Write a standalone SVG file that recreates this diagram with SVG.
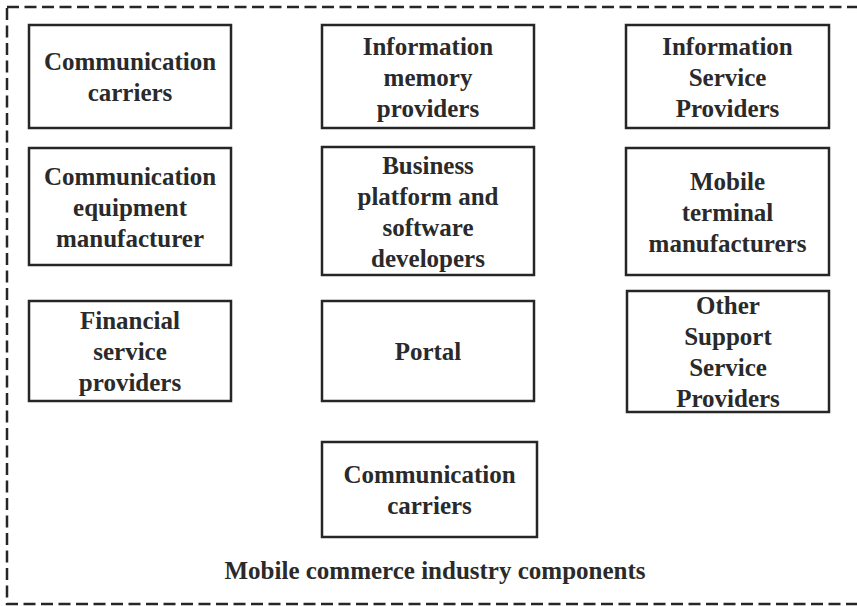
<svg xmlns="http://www.w3.org/2000/svg" width="857" height="606" viewBox="0 0 857 606">
  <style>
    .box { fill: #ffffff; stroke: #262626; stroke-width: 2.5; }
    .frame { fill: none; stroke: #262626; stroke-width: 2.5; stroke-dasharray: 12 5.5; }
    .lbl { font-family: "Liberation Serif", "Times New Roman", serif; font-weight: bold; font-size: 25px; fill: #2a2a2a; text-anchor: middle; }
  </style>
  <rect x="0" y="0" width="857" height="606" fill="#ffffff"/>

  <!-- outer dashed boundary -->
  <rect class="frame" x="7" y="7" width="862" height="597"/>

  <g id="n-comm-carriers">
    <rect class="box" x="29" y="25" width="202" height="103"/>
    <text class="lbl" x="130" y="70">Communication</text>
    <text class="lbl" x="130" y="101">carriers</text>
  </g>

  <g id="n-info-memory">
    <rect class="box" x="322" y="25" width="212" height="103"/>
    <text class="lbl" x="428" y="54.5">Information</text>
    <text class="lbl" x="428" y="85.5">memory</text>
    <text class="lbl" x="428" y="116.5">providers</text>
  </g>

  <g id="n-info-service">
    <rect class="box" x="626" y="25" width="203" height="103"/>
    <text class="lbl" x="727.5" y="54.5">Information</text>
    <text class="lbl" x="727.5" y="85.5">Service</text>
    <text class="lbl" x="727.5" y="116.5">Providers</text>
  </g>

  <g id="n-comm-equipment">
    <rect class="box" x="29" y="148" width="202" height="117"/>
    <text class="lbl" x="130" y="184.5">Communication</text>
    <text class="lbl" x="130" y="215.5">equipment</text>
    <text class="lbl" x="130" y="246.5">manufacturer</text>
  </g>

  <g id="n-business-platform">
    <rect class="box" x="322" y="147" width="212" height="128"/>
    <text class="lbl" x="428" y="173.5">Business</text>
    <text class="lbl" x="428" y="204.5">platform and</text>
    <text class="lbl" x="428" y="235.5">software</text>
    <text class="lbl" x="428" y="266.5">developers</text>
  </g>

  <g id="n-mobile-terminal">
    <rect class="box" x="626" y="148" width="203" height="127"/>
    <text class="lbl" x="727.5" y="189.5">Mobile</text>
    <text class="lbl" x="727.5" y="220.5">terminal</text>
    <text class="lbl" x="727.5" y="251.5">manufacturers</text>
  </g>

  <g id="n-financial">
    <rect class="box" x="29" y="301" width="202" height="100"/>
    <text class="lbl" x="130" y="329">Financial</text>
    <text class="lbl" x="130" y="360">service</text>
    <text class="lbl" x="130" y="391">providers</text>
  </g>

  <g id="n-portal">
    <rect class="box" x="322" y="301" width="212" height="100"/>
    <text class="lbl" x="428" y="360">Portal</text>
  </g>

  <g id="n-other-support">
    <rect class="box" x="627" y="291" width="202" height="121"/>
    <text class="lbl" x="728" y="314">Other</text>
    <text class="lbl" x="728" y="345">Support</text>
    <text class="lbl" x="728" y="376">Service</text>
    <text class="lbl" x="728" y="407">Providers</text>
  </g>

  <g id="n-comm-carriers-2">
    <rect class="box" x="322" y="442" width="215" height="95"/>
    <text class="lbl" x="429.5" y="483">Communication</text>
    <text class="lbl" x="429.5" y="514">carriers</text>
  </g>

  <g id="connectors"></g>

  <text class="lbl" x="435" y="579">Mobile commerce industry components</text>
</svg>
